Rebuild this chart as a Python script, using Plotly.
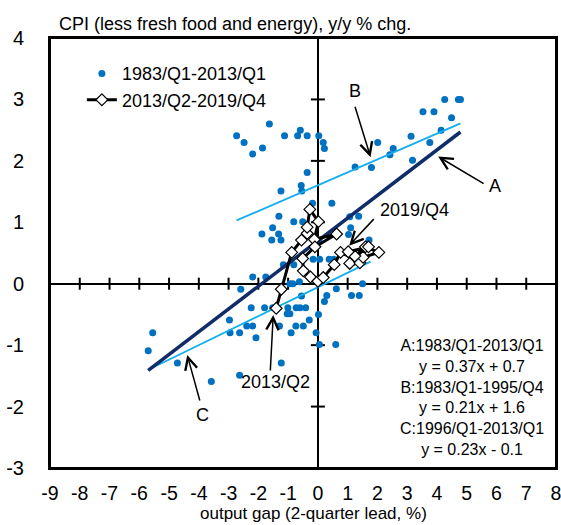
import plotly.graph_objects as go

# ---------------- data ----------------
hist_label = "1983/Q1-2013/Q1"
hist_x = [-2.73, -2.48, -2.19, -1.86, -1.63, -1.12, -0.68, -0.59, -0.36, 0.03, 0.18, 0.22,
          -0.36, -0.56, -0.54, -1.24, -0.18, 0.47,
          -1.31, -0.81, -0.51, -1.52, -1.88, -1.32, -1.55, -1.24, 0.04,
          -0.16, 0.06, 0.38, 0.53, -1.16, -0.81,
          -2.19, -1.75, -2.59, -0.94, -0.84, -0.62,
          1.25, 1.80, 2.01, 2.42, 2.53, 3.13, 3.18, 3.53, 3.76, 3.90, 4.14, 4.26, 4.49, 4.72, 4.79,
          1.07, 1.37, 1.10, 1.03, 1.72, 1.50,
          0.62, 0.30, 1.13, 1.39, 0.22, 0.02, -0.06, 0.05, 0.60,
          -5.55, -5.70, -4.72, -3.58, -2.63,
          -2.97, -2.95, -2.63, -2.39, -2.19, -2.08,
          -2.24, -1.79, -1.52, -1.01, -0.73, -0.60, -0.41,
          -1.03, -0.94, -1.29, -0.74, -0.49, -0.90, -0.29, -1.23, -0.55]
hist_y = [2.41, 2.30, 2.11, 2.21, 2.60, 2.41, 2.41, 2.50, 2.41, 2.41, 2.30, 2.20,
          1.81, 1.60, 1.51, 1.51, 1.31, 1.31,
          1.10, 1.01, 1.01, 0.91, 0.81, 0.81, 0.71, 0.71, 0.71,
          0.40, 0.40, 0.40, 0.40, 0.31, 0.31,
          0.11, 0.11, -0.09, 0.00, 0.00, 0.03,
          1.90, 1.89, 2.30, 2.10, 2.20, 2.40, 2.01, 2.80, 2.30, 2.80, 2.50, 3.00, 2.70, 3.00, 3.00,
          1.09, 1.10, 0.91, 0.80, 0.71, 0.00,
          -0.08, -0.19, -0.19, -0.19, -0.29, -0.50, -0.80, -0.99, -0.99,
          -0.80, -1.09, -1.29, -1.59, -1.49,
          -0.59, -0.80, -0.80, -0.69, -0.69, -0.88,
          -0.39, -0.39, -0.39, -0.39, -0.39, -0.39, -0.39,
          -0.49, -0.49, -0.69, -0.69, -0.69, -0.80, -0.59, -1.29, -0.20]

path_label = "2013/Q2-2019/Q4"
path_x = [-1.40, -1.23, -0.88, -0.55, -0.36, -0.36, -0.27, 0.02, -0.12, 0.63, -0.10, -0.51, -0.49,
          -0.25, 0.00, 0.18, 0.55, 0.76, 1.24, 1.07, 1.41, 1.52, 2.05, 1.60, 1.24, 1.70, 1.02]
path_y = [-0.40, -0.09, 0.51, 0.71, 0.82, 0.92, 1.21, 1.01, 0.72, 0.81, 0.60, 0.41, 0.21,
          0.11, 0.04, 0.10, 0.31, 0.51, 0.40, 0.33, 0.34, 0.43, 0.51, 0.60, 0.45, 0.60, 0.52]

# fitted lines (end points)
lineA_x = [-5.70, 4.79]
lineA_y = [-1.41, 2.47]
lineB_x = [-2.73, 4.79]
lineB_y = [1.03, 2.61]
lineC_x = [-5.70, 1.77]
lineC_y = [-1.40, 0.36]

x_ticks = list(range(-9, 9))
y_ticks = list(range(-3, 5))
x_range = [-9, 8]
y_range = [-3, 4]

equations = ["A:1983/Q1-2013/Q1", "y = 0.37x + 0.7",
             "B:1983/Q1-1995/Q4", "y = 0.21x + 1.6",
             "C:1996/Q1-2013/Q1", "y = 0.23x - 0.1"]

y_title = "CPI (less fresh food and energy), y/y % chg."
x_title = "output gap (2-quarter lead, %)"

FONT = "Liberation Sans, Arial, sans-serif"
DOT = "#0070C0"
LIGHT = "#12AEEE"
NAVY = "#102D6A"

fig = go.Figure()
fig.add_trace(go.Scatter(x=hist_x, y=hist_y, mode="markers", name=hist_label,
                         marker=dict(color=DOT, size=7), showlegend=True))
fig.add_trace(go.Scatter(x=lineB_x, y=lineB_y, mode="lines", line=dict(color=LIGHT, width=1.8),
                         showlegend=False))
fig.add_trace(go.Scatter(x=lineC_x, y=lineC_y, mode="lines", line=dict(color=LIGHT, width=1.8),
                         showlegend=False))
fig.add_trace(go.Scatter(x=lineA_x, y=lineA_y, mode="lines", line=dict(color=NAVY, width=3.5),
                         showlegend=False))
fig.add_trace(go.Scatter(x=path_x, y=path_y, mode="lines+markers", name=path_label,
                         line=dict(color="black", width=3),
                         marker=dict(symbol="diamond", size=9, color="white",
                                     line=dict(color="black", width=1.2))))

shapes = [dict(type="rect", xref="x domain", yref="y domain", x0=0, x1=1, y0=0, y1=1,
               line=dict(color="black", width=2), fillcolor="rgba(0,0,0,0)", layer="above")]
for v in x_ticks:
    shapes.append(dict(type="line", xref="x", yref="y", x0=v, x1=v,
                       ysizemode="pixel", yanchor=0, y0=-6, y1=6,
                       line=dict(color="black", width=2), layer="below"))
for v in y_ticks:
    shapes.append(dict(type="line", xref="x", yref="y", y0=v, y1=v,
                       xsizemode="pixel", xanchor=0, x0=-7, x1=7,
                       line=dict(color="black", width=2), layer="below"))

annotations = []
# arrows (tip in data coords, tail offset in px)
arrow_specs = [
    (1.77, 2.06, -16, -52),
    (4.04, 2.07, 47, 28),
    (-4.39, -1.16, 13, 47),
    (-1.50, -0.51, -3, 57),
    (1.05, 0.62, 26, -28),
]
for (tx, ty, ax, ay) in arrow_specs:
    annotations.append(dict(x=tx, y=ty, xref="x", yref="y", text="", showarrow=True,
                            ax=ax, ay=ay, arrowhead=5, arrowsize=1.6, arrowwidth=1.5,
                            arrowcolor="black"))
labels = [("B", 1.24, 3.14), ("A", 5.96, 1.59), ("C", -3.87, -2.14),
          ("2013/Q2", -1.44, -1.60), ("2019/Q4", 3.26, 1.20)]
for (t, lx, ly) in labels:
    annotations.append(dict(x=lx, y=ly, xref="x", yref="y", text=t, showarrow=False,
                            xanchor="center", yanchor="middle",
                            font=dict(size=18, color="black", family=FONT)))
annotations.append(dict(x=0.834, y=0.165, xref="paper", yref="paper",
                        text="<br>".join(equations), showarrow=False, align="center",
                        xanchor="center", yanchor="middle",
                        font=dict(size=16, color="black", family=FONT)))
annotations.append(dict(x=0.014, y=1.033, xref="paper", yref="paper", text=y_title,
                        showarrow=False, xanchor="left", yanchor="middle",
                        font=dict(size=18, color="black", family=FONT)))
annotations.append(dict(x=0.52, y=-0.1047, xref="paper", yref="paper", text=x_title,
                        showarrow=False, xanchor="center", yanchor="middle", borderpad=0,
                        font=dict(size=17, color="black", family=FONT)))

fig.update_layout(
    width=561, height=525,
    margin=dict(l=50, r=5, t=38, b=57, autoexpand=False),
    paper_bgcolor="white", plot_bgcolor="white",
    font=dict(family=FONT, color="black"),
    shapes=shapes, annotations=annotations,
    legend=dict(x=0.063, y=0.96, xanchor="left", yanchor="top",
                font=dict(size=18, color="black", family=FONT),
                bgcolor="rgba(0,0,0,0)", itemwidth=30, tracegroupgap=0),
    xaxis=dict(range=x_range, tickvals=x_ticks, ticktext=[str(v) for v in x_ticks],
               showgrid=False, zeroline=True, zerolinecolor="black", zerolinewidth=2,
               showline=True, mirror=True, linecolor="black", linewidth=2,
               ticks="", ticklabelstandoff=7, tickfont=dict(size=19.5),
               ticklabeloverflow="allow", automargin=False),
    yaxis=dict(range=y_range, tickvals=y_ticks, ticktext=[str(v) for v in y_ticks],
               showgrid=False, zeroline=True, zerolinecolor="black", zerolinewidth=2,
               showline=True, mirror=True, linecolor="black", linewidth=2,
               ticks="", ticklabelstandoff=20, tickfont=dict(size=20),
               ticklabeloverflow="allow", automargin=False),
)

fig.write_html("out.html", config={"displayModeBar": False},
               post_script="document.body.style.margin='0';document.body.style.padding='0';")
